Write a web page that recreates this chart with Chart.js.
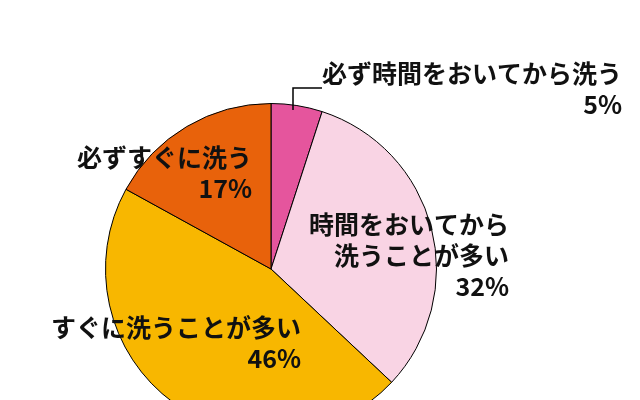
<!DOCTYPE html>
<html>
<head>
<meta charset="utf-8">
<script src="https://cdn.jsdelivr.net/npm/chart.js@4/dist/chart.umd.min.js"></script>
<style>
  html, body { margin: 0; padding: 0; background: #fff; }
  #wrap { width: 640px; height: 400px; overflow: hidden; position: relative; }
  #grafico { display: block; }
</style>
</head>
<body>
<div id="wrap">
  <canvas id="grafico" width="640" height="440"></canvas>
</div>
<script>
// DADOS
const categorias = ['必ず時間をおいてから洗う', '時間をおいてから洗うことが多い', 'すぐに洗うことが多い', '必ずすぐに洗う'];
const valores = [5, 32, 46, 17];
const cores = ['#E5559D', '#F9D4E4', '#F8B700', '#E8620B'];

// linhas de texto de cada rótulo (quebras como no original)
const linhasRotulo = [
  ['必ず時間をおいてから洗う', '5%'],
  ['時間をおいてから', '洗うことが多い', '32%'],
  ['すぐに洗うことが多い', '46%'],
  ['必ずすぐに洗う', '17%']
];

// posição do rótulo: canto direito (x) e centro da primeira linha (y), relativo ao centro da pizza
const posRotulo = [
  { dx: 351, dy: -196 },
  { dx: 238, dy: -45 },
  { dx: 30, dy: 58 },
  { dx: -19, dy: -112 }
];

const rotulosPlugin = {
  id: 'rotulos',
  afterDatasetsDraw(chart) {
    const arco = chart.getDatasetMeta(0).data[0];
    const cx = arco.x, cy = arco.y;
    const ctx = chart.ctx;
    ctx.save();

    // linha guia da fatia de 5%
    ctx.strokeStyle = '#000';
    ctx.lineWidth = 1.5;
    ctx.beginPath();
    ctx.moveTo(cx + 22, cy - 159);
    ctx.lineTo(cx + 22, cy - 181);
    ctx.lineTo(cx + 51, cy - 181);
    ctx.stroke();

    ctx.fillStyle = '#111';
    ctx.font = 'bold 25px "Noto Sans CJK JP", sans-serif';
    ctx.textAlign = 'right';
    ctx.textBaseline = 'middle';
    linhasRotulo.forEach((linhas, i) => {
      const p = posRotulo[i];
      linhas.forEach((txt, j) => {
        ctx.fillText(txt, cx + p.dx, cy + p.dy + j * 31);
      });
    });
    ctx.restore();
  }
};

new Chart(document.getElementById('grafico').getContext('2d'), {
  type: 'pie',
  data: {
    labels: categorias,
    datasets: [{
      data: valores,
      backgroundColor: cores,
      borderColor: '#000',
      borderWidth: 1
    }]
  },
  options: {
    responsive: false,
    animation: false,
    rotation: 0,
    layout: { padding: { left: 105, right: 203, top: 103, bottom: 5 } },
    plugins: {
      legend: { display: false },
      tooltip: { enabled: false }
    }
  },
  plugins: [rotulosPlugin]
});
</script>
</body>
</html>
